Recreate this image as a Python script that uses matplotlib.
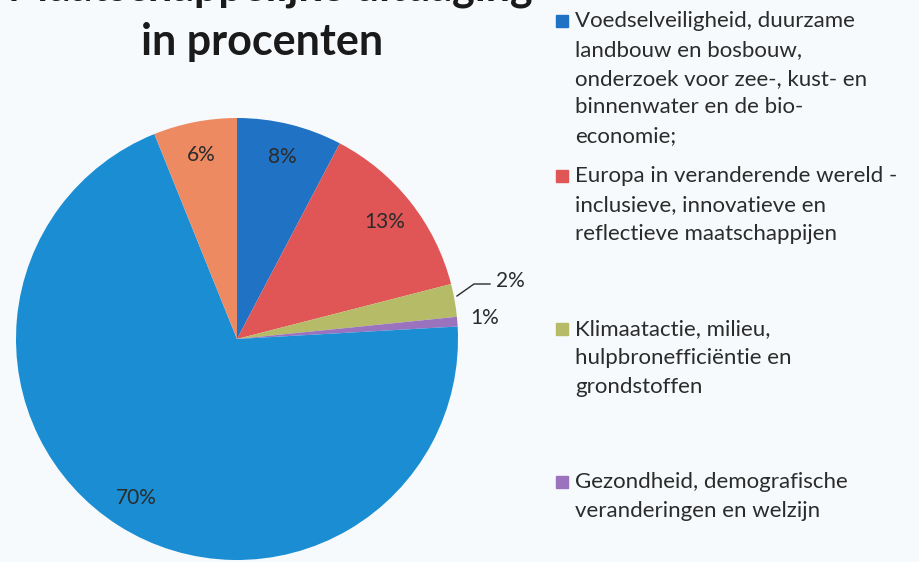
import matplotlib
matplotlib.use("Agg")
import matplotlib.pyplot as plt
from matplotlib.patches import Rectangle

W, H = 919, 562
BG = "#f6fafc"
TXT = "#2b2b2b"

# ---- data ----
categories = [
    "Voedselveiligheid, duurzame\nlandbouw en bosbouw,\nonderzoek voor zee-, kust- en\nbinnenwater en de bio-\neconomie;",
    "Europa in veranderende wereld -\ninclusieve, innovatieve en\nreflectieve maatschappijen",
    "Klimaatactie, milieu,\nhulpbronefficiëntie en\ngrondstoffen",
    "Gezondheid, demografische\nveranderingen en welzijn",
    "Overige",
    "Overige 2",
]
values = [7.7, 13.3, 2.4, 0.7, 69.8, 6.1]
colors = ["#1f72c4", "#e05656", "#b6bb68", "#9a72be", "#1b8dd3", "#ee8a62"]
legend_shown = 4
title_lines = ["Maatschappelijke uitdaging", "in procenten"]

plt.rcParams["font.family"] = ["Lato", "DejaVu Sans"]

fig = plt.figure(figsize=(W / 100, H / 100), dpi=100, facecolor=BG)

def fx(px):
    return px / W

def fy(py):
    return 1 - py / H

# pie axes: center (237,339), radius 221 px
cx, cy, r = 237, 339, 221
ax = fig.add_axes([fx(cx - r), fy(cy + r), 2 * r / W, 2 * r / H])
ax.set_facecolor(BG)
wedges, texts, autotexts = ax.pie(
    values, colors=colors, startangle=90, counterclock=False,
    autopct="%.0f%%", pctdistance=0.85, radius=1.0,
    wedgeprops=dict(linewidth=0),
    textprops=dict(color=TXT, fontsize=15),
)
ax.set_xlim(-1, 1)
ax.set_ylim(-1, 1)
ax.set_aspect("equal")
ax.axis("off")

# outside labels for small slices
def px2data(px, py):
    return ((px - cx) / r, (cy - py) / r)

autotexts[2].set_position(px2data(510, 281))
autotexts[3].set_position(px2data(485, 318))
x0, y0 = px2data(457, 296)
x1, y1 = px2data(474, 284)
x2, y2 = px2data(490, 284)
ax.plot([x0, x1, x2], [y0, y1, y2], color=TXT, lw=1.0, clip_on=False)

# title (first line is cut off at the top edge, as in the reference)
fig.text(fx(270), fy(0), title_lines[0], ha="center", va="baseline",
         fontsize=31, fontweight="bold", color="#1a1a1a")
fig.text(fx(262), fy(55), title_lines[1], ha="center", va="baseline",
         fontsize=31, fontweight="bold", color="#1a1a1a")

# legend
starts = [21, 176, 329, 482]
spacing = 28.8
for i in range(legend_shown):
    y = starts[i]
    fig.patches.append(Rectangle((fx(556), fy(y + 6)), 12 / W, 12 / H,
                                 transform=fig.transFigure, color=colors[i]))
    for j, line in enumerate(categories[i].split("\n")):
        fig.text(fx(575), fy(y + j * spacing), line, ha="left", va="center",
                 fontsize=16, color=TXT)

fig.savefig("out.png", dpi=100, facecolor=BG)
